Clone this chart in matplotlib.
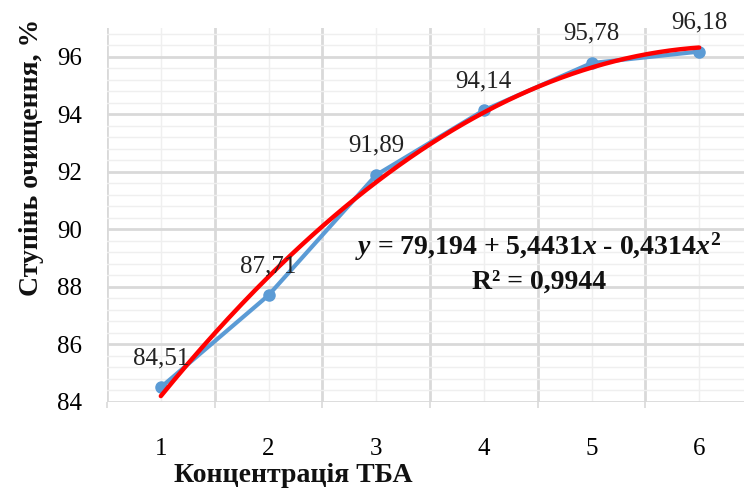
import numpy as np
import matplotlib
matplotlib.use("Agg")
import matplotlib.pyplot as plt
from matplotlib.ticker import MultipleLocator, FixedLocator

# Data
x_vals = [1, 2, 3, 4, 5, 6]
y_vals = [84.51, 87.71, 91.89, 94.14, 95.78, 96.18]
x_ticklabels = ["1", "2", "3", "4", "5", "6"]
data_labels = ["84,51", "87,71", "91,89", "94,14", "95,78", "96,18"]
eq_text = r"$y$ = 79,194 + 5,4431$x$ - 0,4314$x^2$"
r2_text = r"R² = 0,9944"
x_title = "Концентрація ТБА"
y_title = "Ступінь очищення, %"

plt.rcParams['font.family'] = ['Liberation Serif', 'DejaVu Serif']
plt.rcParams['mathtext.fontset'] = 'custom'
plt.rcParams['mathtext.rm'] = 'Liberation Serif:bold'
plt.rcParams['mathtext.it'] = 'Liberation Serif:italic:bold'
plt.rcParams['mathtext.bf'] = 'Liberation Serif:bold'

W, H = 744, 488
fig = plt.figure(figsize=(W / 100, H / 100), dpi=100)
ax = fig.add_axes([107 / W, 1 - 402 / H, (753 - 107) / W, (402 - 28) / H])

ax.set_xlim(0.5, 6.5)
ax.set_ylim(84, 97)

for s in ax.spines.values():
    s.set_visible(False)

# Grid
ax.xaxis.set_major_locator(FixedLocator(x_vals))
ax.xaxis.set_minor_locator(FixedLocator([v + 0.5 for v in [0] + x_vals]))
ax.yaxis.set_major_locator(MultipleLocator(2))
ax.yaxis.set_minor_locator(MultipleLocator(0.4))
ax.set_axisbelow(True)
ax.grid(which='major', axis='y', color='#D9D9D9', linewidth=2.0)
ax.grid(which='minor', axis='y', color='#EFEFEF', linewidth=1.0)
ax.grid(which='minor', axis='x', color='#D9D9D9', linewidth=2.0)
ax.grid(which='major', axis='x', color='#EFEFEF', linewidth=1.0)

ax.set_xticklabels(x_ticklabels)
ax.tick_params(axis='x', which='major', length=0, pad=26, labelsize=18)
ax.tick_params(axis='x', which='minor', length=4, width=1.2, color='#D9D9D9')
ax.tick_params(axis='y', which='both', length=0, pad=18, labelsize=18)

# Series
ax.plot(x_vals, y_vals, color='#5B9BD5', linewidth=3.0, marker='o',
        markersize=8, markerfacecolor='#5B9BD5', markeredgecolor='#5B9BD5',
        solid_capstyle='round', zorder=3)

# Polynomial trendline (2nd order) computed from data
coef = np.polyfit(x_vals, y_vals, 2)
xs = np.linspace(min(x_vals), max(x_vals), 200)
ax.plot(xs, np.polyval(coef, xs), color='#FF0000', linewidth=3.2,
        solid_capstyle='round', zorder=4)

for xv, yv, lab in zip(x_vals, y_vals, data_labels):
    ax.annotate(lab, (xv, yv), xytext=(0, 21), textcoords='offset points',
                ha='center', va='center', fontsize=18, color='#222222',
                zorder=5)

fig.text(538 / W, 1 - 247 / H, eq_text, ha='center', va='center',
         fontsize=20, fontweight='bold', color='#111111')
fig.text(539 / W, 1 - 282 / H, r2_text, ha='center', va='center',
         fontsize=20, fontweight='bold', color='#111111')

fig.text(293 / W, 1 - 475 / H, x_title, ha='center', va='center',
         fontsize=20, fontweight='bold', color='#111111')
fig.text(32 / W, 1 - 157 / H, y_title, ha='center', va='center',
         rotation=90, fontsize=20, fontweight='bold', color='#111111')

fig.savefig("out.png", dpi=100)
